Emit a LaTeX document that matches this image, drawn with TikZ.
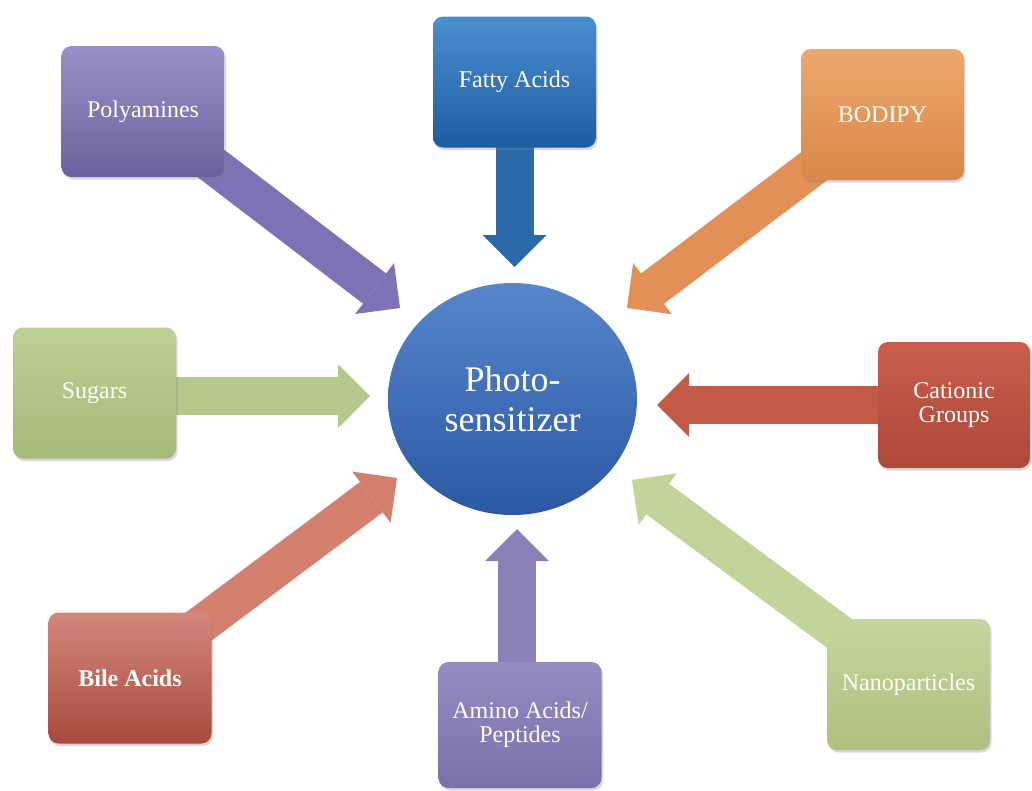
\documentclass[tikz,border=0pt]{standalone}
\usepackage{fontspec}
\setmainfont{Liberation Serif}
\usetikzlibrary{arrows.meta,shapes.geometric,shadows}
\pgfdeclarelayer{back}
\pgfdeclarelayer{mid}
\pgfsetlayers{back,mid,main}
\definecolor{purT}{HTML}{9A90C8}\definecolor{purB}{HTML}{6B619E}\definecolor{purA}{HTML}{7C72B4}
\definecolor{bluT}{HTML}{4A8FD0}\definecolor{bluB}{HTML}{1E5CA0}\definecolor{bluA}{HTML}{2A68AA}
\definecolor{oraT}{HTML}{EDA86E}\definecolor{oraB}{HTML}{D98648}\definecolor{oraA}{HTML}{E29058}
\definecolor{greT}{HTML}{BDD096}\definecolor{greB}{HTML}{A5BA78}\definecolor{greA}{HTML}{B4C88C}
\definecolor{redT}{HTML}{C85E4E}\definecolor{redB}{HTML}{AE4838}\definecolor{redA}{HTML}{C35A48}
\definecolor{salT}{HTML}{D4877C}\definecolor{salB}{HTML}{A84A3E}\definecolor{salA}{HTML}{D3806F}
\definecolor{amiT}{HTML}{968CC2}\definecolor{amiB}{HTML}{7A70AC}\definecolor{amiA}{HTML}{8A80B8}
\definecolor{nanT}{HTML}{C4D69C}\definecolor{nanB}{HTML}{AEBF7E}\definecolor{nanA}{HTML}{C2D49A}
\definecolor{cirT}{HTML}{5886CC}\definecolor{cirB}{HTML}{2A58A2}
\begin{document}
\begin{tikzpicture}[x=1pt,y=-1pt,
  box/.style={rounded corners=10pt, minimum width=163pt, minimum height=131pt,
    inner sep=0pt, align=center, text=white,
    font=\fontsize{24}{24}\selectfont,
    drop shadow={shadow xshift=1.5pt,shadow yshift=-2.5pt,opacity=0.3}},
  fat/.style={line width=38pt, line cap=butt,
    -{Triangle[width=64pt,length=32pt,line width=0pt]}},
]
\begin{pgfonlayer}{back}
\fill[white] (0,0) rectangle (1032,790);
\end{pgfonlayer}
\useasboundingbox (0,0) rectangle (1032,790);

% central node
\node[ellipse, minimum width=249pt, minimum height=232pt, inner sep=0pt,
  top color=cirT, bottom color=cirB, text=white, align=center,
  font=\fontsize{36}{40}\selectfont] (ps) at (512.5,399) {Photo-\\sensitizer};

% boxes
\node[box, top color=purT, bottom color=purB] (poly) at (143,111.5) {Polyamines};
\node[box, top color=bluT, bottom color=bluB] (fatty) at (514.5,82) {Fatty Acids};
\node[box, top color=oraT, bottom color=oraB] (bod) at (882.5,114.5) {BODIPY};
\node[box, top color=greT, bottom color=greB] (sug) at (94.5,393) {Sugars};
\node[box, top color=redT, bottom color=redB, minimum width=152pt, minimum height=126pt] (cat) at (954,405) {Cationic\\Groups};
\node[box, top color=salT, bottom color=salB, font=\fontsize{24}{24}\selectfont\bfseries] (bile) at (130,678) {Bile Acids};
\node[box, top color=amiT, bottom color=amiB, minimum height=126pt] (ami) at (520,725) {Amino Acids/\\Peptides};
\node[box, top color=nanT, bottom color=nanB] (nano) at (908.5,684.5) {Nanoparticles};

% arrow tips
\coordinate (tPoly) at (400,308);
\coordinate (tFat) at (514.5,267);
\coordinate (tBod) at (627,308);
\coordinate (tSug) at (370,396);
\coordinate (tCat) at (657,405);
\coordinate (tBile) at (397,478);
\coordinate (tAmi) at (517,529);
\coordinate (tNano) at (632,480);

\begin{pgfonlayer}{mid}
\draw[fat, purA] (poly.center) -- (tPoly);
\draw[fat, bluA] (fatty.center) -- (tFat);
\draw[fat, oraA] (bod.center) -- (tBod);
\draw[fat, greA] (sug.center |- tSug) -- (tSug);
\draw[fat, redA] (cat.center |- tCat) -- (tCat);
\draw[fat, salA] (bile.center) -- (tBile);
\draw[fat, amiA] (ami.center -| tAmi) -- (tAmi);
\draw[fat, nanA] (nano.center) -- (tNano);
\end{pgfonlayer}
\end{tikzpicture}
\end{document}
